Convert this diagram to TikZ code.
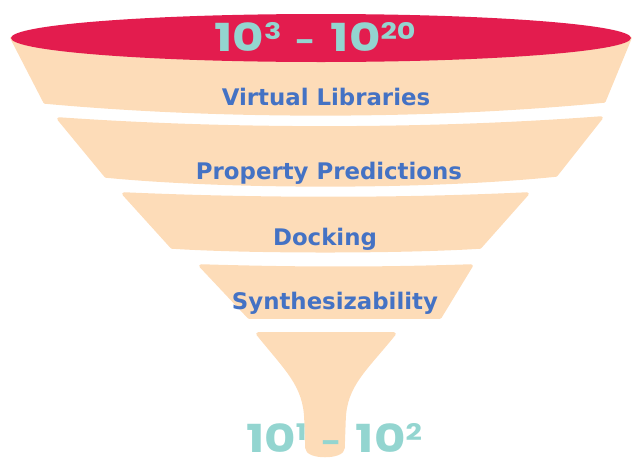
\documentclass[tikz,border=0pt]{standalone}
\usepackage{fontspec}
\newfontfamily\labelfont{DejaVu Sans}
\newfontfamily\countfont{Poppins}
\definecolor{funnelred}{HTML}{E31C4E}
\definecolor{peach}{HTML}{FDDCB8}
\definecolor{stageblue}{HTML}{4472C4}
\definecolor{countteal}{HTML}{93D5D0}
\newcommand\pw[1]{\raisebox{6.5pt}{\fontsize{13}{13}\selectfont #1}}
\newcommand\countdash{\hspace{0.3em}{\fontsize{16}{16}\selectfont -}\hspace{0.3em}}
\newcommand\widecount[1]{\scalebox{1.25}[1]{#1}}

\begin{document}
\begin{tikzpicture}[x=0.02cm, y=-0.02cm,
  band/.style={fill=peach, draw=peach, line width=2pt, line join=round},
  stage/.style={text=stageblue, font=\labelfont\bfseries\fontsize{13}{15}\selectfont, inner sep=0pt, anchor=base},
  count/.style={text=countteal, font=\countfont\bfseries\fontsize{22}{24}\selectfont, inner sep=0pt, anchor=base}]
\useasboundingbox (0,0) rectangle (632,460);

% funnel bands
\draw[band] (12,38) -- (45,102) .. controls (220,118) and (430,118) .. (604,101) -- (630,38) -- cycle;
\draw[band] (59,119) .. controls (230,131) and (430,131) .. (601,118) -- (556,175) .. controls (430,188) and (230,188) .. (106,176) -- cycle;
\draw[band] (124,194) .. controls (260,200) and (400,200) .. (527,194) -- (480,247) .. controls (400,252) and (250,252) .. (172,247) -- cycle;
\draw[band] (201,266) .. controls (300,269) and (380,269) .. (471,266) -- (440,317) -- (249,317) -- cycle;
% stem
\draw[band] (258,334) -- (394,334) .. controls (365,370) and (345,385) .. (344,420) -- (343,448) .. controls (343,458) and (307,458) .. (307,448) -- (306,420) .. controls (305,385) and (287,370) .. (258,334) -- cycle;

% top of the funnel
\fill[funnelred] (321,38) ellipse [x radius=310, y radius=24];

\node[count] (top count) at (315,51) {\widecount{10\pw{3}\countdash 10\pw{20}}};
\node[count] (bottom count) at (334,452) {\widecount{10\pw{1}\countdash 10\pw{2}}};

\foreach \n/\x/\y/\t in {libs/326/105/Virtual Libraries, props/329/179/Property Predictions, dock/325/245/Docking, synth/335/309/Synthesizability}
  \node[stage] (\n) at (\x,\y) {\t};
\end{tikzpicture}
\end{document}
